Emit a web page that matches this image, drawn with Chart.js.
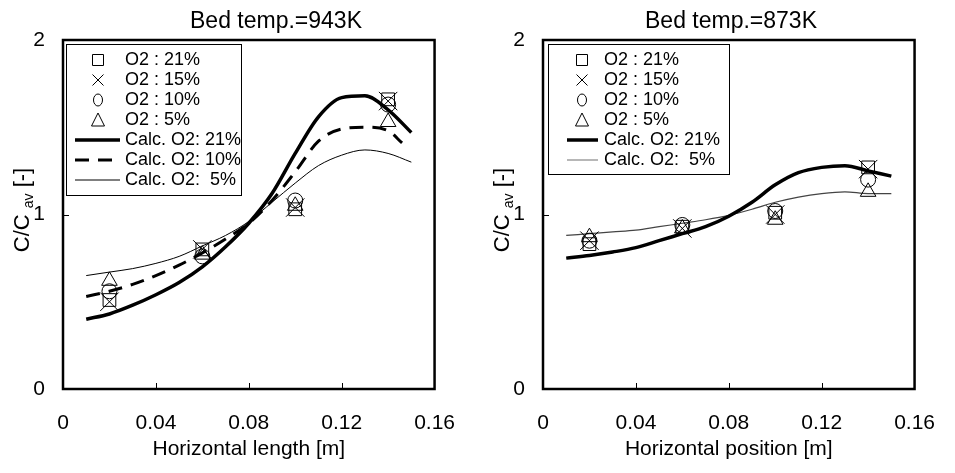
<!DOCTYPE html>
<html>
<head>
<meta charset="utf-8">
<script src="https://cdn.jsdelivr.net/npm/chart.js@4.4.0/dist/chart.umd.min.js"></script>
<style>
  html, body { margin: 0; padding: 0; background: #fff; overflow: hidden; }
  .panel { position: absolute; top: 0; width: 477px; height: 473px; }
</style>
</head>
<body>
<div class="panel" style="left:0"><canvas id="left" width="477" height="473"></canvas></div>
<div class="panel" style="left:480px"><canvas id="right" width="477" height="473"></canvas></div>
<script>
// axes
const xTicks = [0, 0.04, 0.08, 0.12, 0.16];
const xTickLabels = ["0", "0.04", "0.08", "0.12", "0.16"];
const yTicks = [0, 1, 2];
const yTickLabels = ["0", "1", "2"];

// measured points (both beds)
const xMeas = [0.02, 0.06, 0.10, 0.14];
const o21_943 = [0.51, 0.80, 1.03, 1.66];
const o15_943 = [0.50, 0.80, 1.04, 1.65];
const o10_943 = [0.56, 0.76, 1.08, 1.63];
const o5_943 = [0.62, 0.77, 1.05, 1.53];

const o21_873 = [0.83, 0.93, 1.01, 1.27];
const o15_873 = [0.85, 0.92, 1.00, 1.26];
const o10_873 = [0.85, 0.94, 1.02, 1.20];
const o5_873 = [0.87, 0.92, 0.97, 1.13];

// calculated curves
const xCalc = [0.01, 0.02, 0.03, 0.04, 0.05, 0.06, 0.07, 0.08, 0.09, 0.10, 0.11, 0.12, 0.13, 0.14, 0.15];
const xCalc10 = [0.01, 0.02, 0.03, 0.04, 0.05, 0.06, 0.07, 0.08, 0.09, 0.10, 0.11, 0.12, 0.13, 0.14, 0.146];
const calc21_943 = [0.40, 0.43, 0.48, 0.54, 0.61, 0.70, 0.815, 0.95, 1.12, 1.35, 1.56, 1.67, 1.68, 1.60, 1.47];
const calc10_943 = [0.53, 0.56, 0.60, 0.65, 0.71, 0.78, 0.86, 0.95, 1.08, 1.245, 1.42, 1.49, 1.50, 1.48, 1.41];
const calc5_943 = [0.65, 0.67, 0.69, 0.72, 0.76, 0.82, 0.88, 0.96, 1.07, 1.18, 1.28, 1.34, 1.37, 1.35, 1.30];

const calc21_873 = [0.75, 0.765, 0.785, 0.81, 0.85, 0.89, 0.93, 0.99, 1.07, 1.17, 1.24, 1.27, 1.28, 1.25, 1.22];
const calc5_873 = [0.88, 0.89, 0.90, 0.91, 0.93, 0.95, 0.97, 0.995, 1.03, 1.07, 1.10, 1.12, 1.13, 1.12, 1.12];

const FONT = '"Liberation Sans", Arial, sans-serif';
Chart.defaults.font.family = FONT;
Chart.defaults.color = "#000";

const pts = (xs, ys) => xs.map((x, i) => ({ x: x, y: ys[i] }));

const marker = (label, xs, ys, style, r) => ({
  label, data: pts(xs, ys), showLine: false,
  pointStyle: style, pointRadius: r, pointBorderColor: "#000",
  pointBackgroundColor: "rgba(0,0,0,0)", pointBorderWidth: 1
});

const curve = (label, xs, ys, width, dash, color) => ({
  label, data: pts(xs, ys), showLine: true, pointRadius: 0,
  borderColor: color, borderWidth: width, borderDash: dash,
  cubicInterpolationMode: "monotone", fill: false
});

function drawSymbol(ctx, style, x, y) {
  ctx.beginPath();
  if (style === "rect") {
    ctx.rect(x - 5.5, y - 5.5, 11, 11);
  } else if (style === "crossRot") {
    ctx.moveTo(x - 5.5, y - 5.5); ctx.lineTo(x + 5.5, y + 5.5);
    ctx.moveTo(x + 5.5, y - 5.5); ctx.lineTo(x - 5.5, y + 5.5);
  } else if (style === "circle") {
    ctx.ellipse(x, y, 4.5, 6, 0, 0, Math.PI * 2);
  } else if (style === "triangle") {
    ctx.moveTo(x, y - 7); ctx.lineTo(x - 6.5, y + 6); ctx.lineTo(x + 6.5, y + 6); ctx.closePath();
  }
  ctx.stroke();
}

const decor = {
  id: "decor",
  afterDraw(chart, args, o) {
    const { ctx, chartArea: a, scales } = chart;
    const x = scales.x, y = scales.y;
    ctx.save();
    // frame
    ctx.strokeStyle = "#000";
    ctx.lineWidth = 2.5;
    ctx.strokeRect(a.left, a.top, a.right - a.left, a.bottom - a.top);
    // inner tick marks
    ctx.lineWidth = 1;
    xTicks.slice(1, -1).forEach(v => {
      const px = Math.round(x.getPixelForValue(v)) + 0.5;
      ctx.beginPath(); ctx.moveTo(px, a.bottom); ctx.lineTo(px, a.bottom - 6); ctx.stroke();
    });
    yTicks.slice(1, -1).forEach(v => {
      const py = Math.round(y.getPixelForValue(v)) + 0.5;
      ctx.beginPath(); ctx.moveTo(a.left, py); ctx.lineTo(a.left + 6, py); ctx.stroke();
    });

    // titles
    ctx.fillStyle = "#000";
    ctx.font = "23px " + FONT;
    ctx.textBaseline = "alphabetic";
    ctx.textAlign = "left";
    ctx.fillText(o.title, o.titleX, 28);
    ctx.font = "21px " + FONT;
    ctx.textAlign = "center";
    ctx.fillText(o.xTitle, (a.left + a.right) / 2, 455);

    // y title with subscript
    ctx.save();
    ctx.translate(29, 210);
    ctx.rotate(-Math.PI / 2);
    ctx.textAlign = "left";
    ctx.font = "22px " + FONT;
    const w1 = ctx.measureText("C/C ").width;
    const w3 = ctx.measureText(" [-]").width;
    ctx.font = "14px " + FONT;
    const w2 = ctx.measureText("av").width;
    let cx = -(w1 + w2 + w3) / 2;
    ctx.font = "22px " + FONT;
    ctx.fillText("C/C ", cx, 0);
    cx += w1;
    ctx.font = "14px " + FONT;
    ctx.fillText("av", cx, 4);
    cx += w2;
    ctx.font = "22px " + FONT;
    ctx.fillText(" [-]", cx, 0);
    ctx.restore();

    // legend
    const L = o.legend;
    ctx.fillStyle = "#fff";
    ctx.fillRect(L.x, L.y, L.w, L.h);
    ctx.strokeStyle = "#000";
    ctx.lineWidth = 1;
    ctx.strokeRect(L.x + 0.5, L.y + 0.5, L.w, L.h);
    ctx.font = "18px " + FONT;
    ctx.textAlign = "left";
    ctx.textBaseline = "middle";
    L.items.forEach((it, i) => {
      const ry = L.row0 + i * 20;
      ctx.save();
      if (it.style) {
        ctx.strokeStyle = "#000";
        ctx.lineWidth = 1;
        drawSymbol(ctx, it.style, L.symX, ry);
      } else {
        ctx.strokeStyle = it.color;
        ctx.lineWidth = it.width;
        ctx.setLineDash(it.dash);
        ctx.beginPath(); ctx.moveTo(L.line0, ry); ctx.lineTo(L.line1, ry); ctx.stroke();
      }
      ctx.restore();
      ctx.fillStyle = "#000";
      ctx.fillText(it.label, L.textX, ry);
    });
    ctx.restore();
  }
};

function makeChart(id, datasets, deco) {
  return new Chart(document.getElementById(id), {
    type: "scatter",
    data: { datasets },
    options: {
      responsive: false,
      animation: false,
      layout: { padding: { top: 40, right: 29, left: 0, bottom: 0 } },
      plugins: { legend: { display: false }, tooltip: { enabled: false }, decor: deco },
      scales: {
        x: {
          type: "linear", min: 0, max: 0.16,
          grid: { display: false, drawTicks: false }, border: { display: false },
          afterBuildTicks: s => { s.ticks = xTicks.map(v => ({ value: v })); },
          afterFit: s => { s.height = 84; },
          ticks: { padding: 22, maxRotation: 0, autoSkip: false, font: { size: 21 },
                   callback: (v, i) => xTickLabels[i] }
        },
        y: {
          type: "linear", min: 0, max: 2,
          grid: { display: false, drawTicks: false }, border: { display: false },
          afterBuildTicks: s => { s.ticks = yTicks.map(v => ({ value: v })); },
          afterFit: s => { s.width = 63; },
          ticks: { padding: 18, font: { size: 21 },
                   callback: (v, i) => yTickLabels[i] }
        }
      }
    },
    plugins: [decor]
  });
}

makeChart("left", [
  marker("O2 : 21%", xMeas, o21_943, "rect", 9),
  marker("O2 : 15%", xMeas, o15_943, "crossRot", 13),
  marker("O2 : 10%", xMeas, o10_943, "circle", 7.5),
  marker("O2 : 5%", xMeas, o5_943, "triangle", 9),
  curve("Calc. O2: 21%", xCalc, calc21_943, 3.5, [], "#000"),
  curve("Calc. O2: 10%", xCalc10, calc10_943, 3, [14, 9], "#000"),
  curve("Calc. O2:  5%", xCalc, calc5_943, 1, [], "#000")
], {
  title: "Bed temp.=943K", titleX: 190, xTitle: "Horizontal length [m]",
  legend: {
    x: 66, y: 44, w: 175, h: 151, row0: 60, symX: 98, textX: 125, line0: 75, line1: 120,
    items: [
      { style: "rect", label: "O2 : 21%" },
      { style: "crossRot", label: "O2 : 15%" },
      { style: "circle", label: "O2 : 10%" },
      { style: "triangle", label: "O2 : 5%" },
      { width: 3.5, dash: [], color: "#000", label: "Calc. O2: 21%" },
      { width: 3, dash: [14, 9], color: "#000", label: "Calc. O2: 10%" },
      { width: 1, dash: [], color: "#000", label: "Calc. O2:  5%" }
    ]
  }
});

makeChart("right", [
  marker("O2 : 21%", xMeas, o21_873, "rect", 9),
  marker("O2 : 15%", xMeas, o15_873, "crossRot", 13),
  marker("O2 : 10%", xMeas, o10_873, "circle", 7.5),
  marker("O2 : 5%", xMeas, o5_873, "triangle", 9),
  curve("Calc. O2: 21%", xCalc, calc21_873, 3.5, [], "#000"),
  curve("Calc. O2:  5%", xCalc, calc5_873, 1.2, [], "#444")
], {
  title: "Bed temp.=873K", titleX: 165, xTitle: "Horizontal position [m]",
  legend: {
    x: 68, y: 44, w: 181, h: 130, row0: 60, symX: 102, textX: 124, line0: 87, line1: 118,
    items: [
      { style: "rect", label: "O2 : 21%" },
      { style: "crossRot", label: "O2 : 15%" },
      { style: "circle", label: "O2 : 10%" },
      { style: "triangle", label: "O2 : 5%" },
      { width: 3.5, dash: [], color: "#000", label: "Calc. O2: 21%" },
      { width: 1.2, dash: [], color: "#888", label: "Calc. O2:  5%" }
    ]
  }
});
</script>
</body>
</html>
